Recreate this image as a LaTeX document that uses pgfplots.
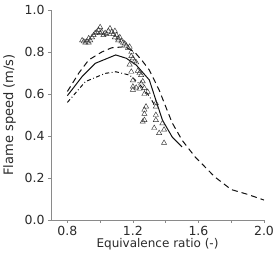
\documentclass[border=0pt]{standalone}
\usepackage{pgfplots}
\pgfplotsset{compat=1.18}
\usepackage{fontspec}
\setmainfont{DejaVu Sans}
\definecolor{axisgray}{HTML}{8A8A8A}
\definecolor{txtgray}{HTML}{2A2A2A}
\definecolor{linegray}{HTML}{111111}

\begin{document}
\begin{tikzpicture}
\useasboundingbox (-51pt,-40pt) rectangle (223pt,220pt);
\begin{axis}[
  scale only axis,
  width=213pt, height=210pt,
  xmin=0.7, xmax=2.0,
  ymin=0, ymax=1.0,
  axis x line*=bottom,
  axis y line*=left,
  axis line style={axisgray, line width=0.7pt},
  tick style={axisgray, line width=0.7pt},
  tick align=outside,
  major tick length=3pt,
  xtick={0.8,1.0,1.2,1.4,1.6,1.8,2.0},
  xticklabels={0.8,,1.2,,1.6,,2.0},
  ytick={0,0.2,0.4,0.6,0.8,1.0},
  /pgf/number format/assume math mode=true,
  /pgf/number format/fixed,
  /pgf/number format/fixed zerofill,
  /pgf/number format/precision=1,
  ticklabel style={font=\fontsize{12.5}{14}\selectfont, text=txtgray},
  xlabel style={font=\fontsize{12}{14}\selectfont, text=txtgray, yshift=4pt},
  ylabel style={font=\fontsize{13}{15}\selectfont, text=txtgray, yshift=2pt},
  xlabel={Equivalence ratio (-)},
  ylabel={Flame speed (m/s)},
  clip=false,
]
% measured flame speeds
\addplot[only marks, mark=triangle, mark size=3pt,
  mark options={draw=black!80, fill=white, line width=0.45pt}] coordinates {
(0.89,0.855) (0.90,0.850) (0.91,0.845) (0.92,0.850) (0.93,0.845)
(0.94,0.855) (0.93,0.865) (0.95,0.870) (0.96,0.880) (0.97,0.890)
(0.98,0.895) (0.99,0.905) (1.00,0.918) (1.00,0.890) (1.01,0.895)
(1.02,0.880) (1.03,0.890) (1.04,0.885) (1.05,0.900) (1.06,0.912)
(1.07,0.895) (1.08,0.885) (1.09,0.900) (1.09,0.870) (1.10,0.880)
(1.11,0.865) (1.11,0.855) (1.12,0.870) (1.13,0.850) (1.14,0.845)
(1.15,0.840) (1.16,0.830) (1.17,0.820) (1.18,0.825) (1.19,0.800)
(1.19,0.780) (1.20,0.770) (1.21,0.755) (1.18,0.740) (1.19,0.706)
(1.22,0.750) (1.23,0.710) (1.24,0.700) (1.25,0.690) (1.20,0.665)
(1.20,0.635) (1.20,0.620) (1.22,0.630) (1.25,0.650) (1.26,0.660)
(1.24,0.625) (1.27,0.628) (1.29,0.610) (1.27,0.600) (1.28,0.540)
(1.27,0.525) (1.27,0.505) (1.27,0.476) (1.26,0.468) (1.34,0.556)
(1.34,0.540) (1.34,0.500) (1.34,0.476) (1.33,0.438) (1.36,0.414)
(1.39,0.430) (1.38,0.460) (1.39,0.367)
};
% model, dashed
\addplot[linegray, line width=1pt, dash pattern=on 6pt off 4pt] coordinates {
(0.80,0.612) (0.87,0.700) (0.93,0.762) (1.01,0.800) (1.07,0.820)
(1.15,0.825) (1.21,0.800) (1.26,0.755) (1.30,0.714) (1.36,0.619)
(1.40,0.540) (1.44,0.462) (1.50,0.380) (1.58,0.300) (1.70,0.205)
(1.80,0.145) (1.90,0.122) (2.00,0.095)
};
% model, solid
\addplot[linegray, line width=1pt] coordinates {
(0.80,0.592) (0.89,0.683) (0.97,0.746) (1.095,0.786) (1.16,0.770)
(1.22,0.738) (1.30,0.667) (1.34,0.571) (1.38,0.476) (1.44,0.395)
(1.50,0.348)
};
% model, dash-dot
\addplot[linegray, line width=1pt, dash pattern=on 4pt off 2.5pt on 0.8pt off 2.5pt] coordinates {
(0.80,0.560) (0.91,0.659) (1.03,0.698) (1.095,0.706) (1.18,0.690)
(1.225,0.659) (1.27,0.620) (1.30,0.590) (1.33,0.550)
};
\end{axis}
\end{tikzpicture}
\end{document}
